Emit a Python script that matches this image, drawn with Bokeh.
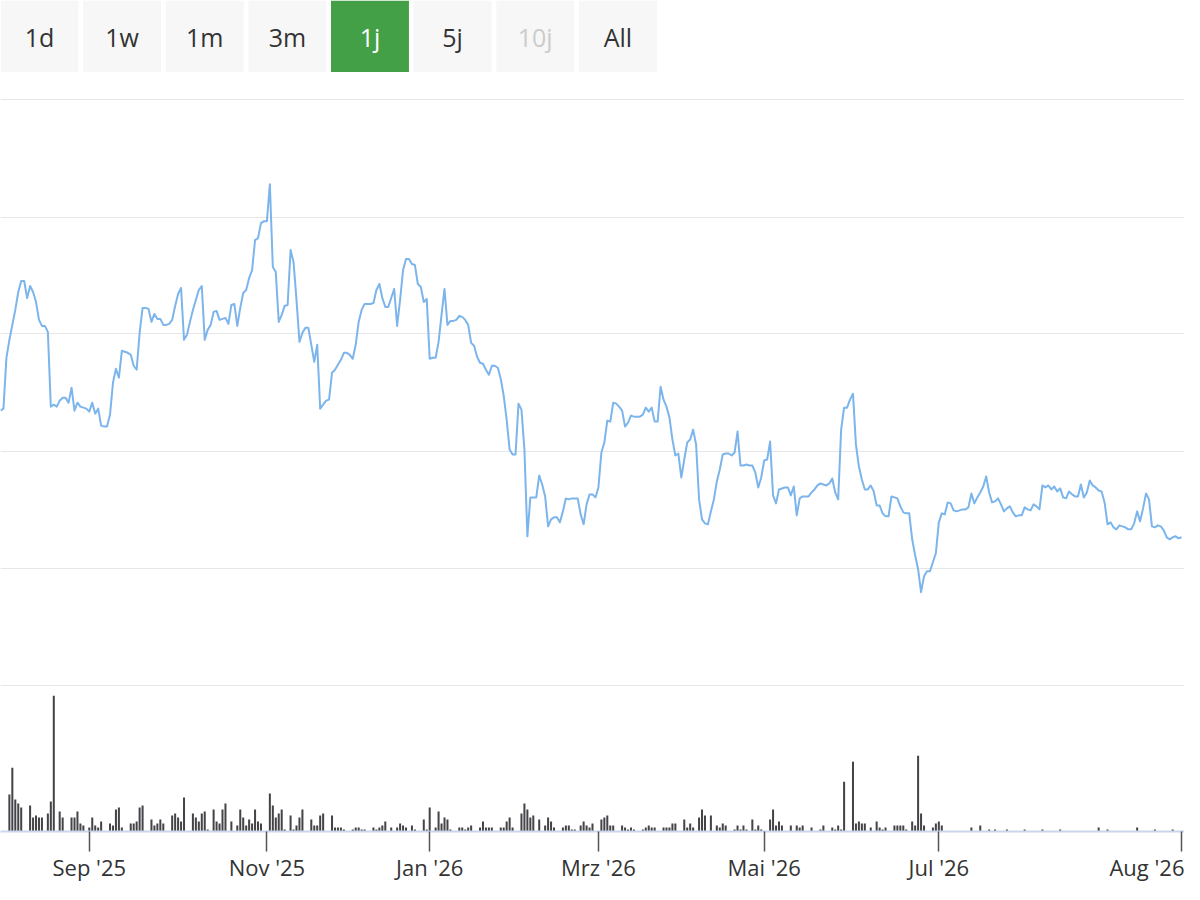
from bokeh.plotting import figure
from bokeh.models import Range1d, FixedTicker, Grid, ColumnDataSource
from bokeh.layouts import column
from bokeh.core.properties import value
from bokeh.embed import file_html
from bokeh.resources import INLINE

# ---------------- data ----------------
range_buttons = ["1d", "1w", "1m", "3m", "1j", "5j", "10j", "All"]
selected_button = "1j"
disabled_buttons = ["10j"]

month_sessions = [30, 90, 145, 202, 258, 317, 399]
month_labels = ["Sep '25", "Nov '25", "Jan '26", "Mrz '26", "Mai '26", "Jul '26", "Aug '26"]

price = [
    276, 278, 329, 347, 362, 377, 395, 406, 406, 389,
    401, 395, 385, 367, 361, 361, 355, 280, 282, 280,
    286, 289, 289, 284, 299, 276, 284, 280, 279, 278,
    275, 284, 273, 278, 261, 260, 260, 272, 304, 318,
    309, 336, 335, 334, 332, 321, 317, 354, 379, 379,
    378, 365, 373, 368, 368, 362, 362, 363, 367, 381,
    393, 399, 347, 352, 365, 377, 387, 397, 401, 347,
    357, 362, 375, 376, 367, 368, 369, 363, 382, 383,
    361, 379, 394, 397, 409, 417, 447, 449, 464, 466,
    466, 503, 420, 415, 365, 372, 381, 382, 437, 425,
    387, 345, 354, 359, 359, 342, 325, 342, 278, 282,
    286, 287, 314, 317, 322, 327, 334, 334, 332, 328,
    342, 365, 377, 383, 383, 383, 384, 397, 403, 389,
    380, 380, 389, 398, 361, 387, 417, 428, 428, 423,
    422, 403, 400, 385, 388, 328, 329, 329, 345, 372,
    398, 362, 366, 366, 367, 371, 370, 367, 362, 344,
    341, 330, 324, 323, 317, 312, 321, 321, 319, 308,
    291, 267, 237, 232, 232, 283, 277, 237, 150, 189,
    189, 189, 211, 202, 190, 160, 167, 169, 169, 164,
    175, 188, 187, 188, 188, 188, 172, 162, 182, 192,
    192, 189, 199, 234, 244, 266, 265, 284, 283, 280,
    276, 260, 264, 271, 270, 270, 270, 272, 279, 275,
    279, 265, 265, 300, 287, 280, 269, 247, 231, 233,
    209, 227, 244, 247, 257, 242, 187, 167, 163, 162,
    175, 187, 205, 217, 232, 233, 233, 231, 234, 255,
    221, 221, 222, 221, 221, 214, 199, 209, 226, 227,
    245, 191, 183, 197, 198, 199, 199, 191, 200, 171,
    188, 190, 190, 190, 194, 197, 201, 203, 202, 201,
    203, 208, 194, 187, 257, 279, 279, 287, 293, 242,
    220, 207, 197, 197, 201, 195, 181, 181, 173, 170,
    170, 190, 189, 188, 180, 174, 173, 173, 147, 131,
    117, 94, 110, 115, 115, 124, 133, 164, 173, 172,
    184, 183, 176, 175, 176, 177, 177, 179, 193, 183,
    189, 194, 200, 210, 194, 184, 185, 188, 182, 175,
    178, 180, 174, 170, 171, 171, 179, 177, 176, 182,
    180, 177, 201, 199, 201, 197, 200, 195, 198, 189,
    188, 195, 192, 190, 190, 202, 189, 194, 206, 201,
    199, 196, 195, 184, 162, 164, 159, 157, 161, 160,
    159, 157, 157, 163, 175, 165, 178, 193, 187, 160,
    159, 161, 160, 156, 149, 147, 149, 150, 148, 149,
]
sessions = list(range(len(price)))

volume_sessions = [
    3, 4, 5, 6, 7, 10, 11, 12, 13, 14, 16, 17, 18, 20, 21, 24, 25, 26, 27, 28,
    30, 31, 32, 33, 34, 37, 38, 39, 40, 41, 44, 45, 46, 47, 48, 51, 52, 53, 54, 55,
    58, 59, 60, 61, 62, 65, 66, 67, 68, 69, 70, 72, 73, 74, 75, 76, 78, 80, 81, 82,
    83, 84, 85, 86, 87, 88, 91, 92, 93, 94, 95, 96, 98, 99, 100, 101, 102, 105, 106, 107,
    108, 109, 112, 113, 114, 115, 116, 119, 120, 121, 122, 123, 126, 127, 128, 129, 130, 132,
    134, 135, 136, 137, 139, 140, 143, 144, 145, 147, 148, 149, 150, 151, 152, 155, 156, 157,
    158, 159, 162, 163, 164, 165, 166, 169, 170, 171, 172, 173, 176, 177, 178, 179, 180, 182,
    184, 185, 186, 187, 190, 191, 192, 193, 194, 196, 197, 198, 199, 200, 203, 204, 205, 206,
    207, 210, 211, 212, 213, 214, 217, 218, 219, 220, 221, 224, 225, 226, 227, 228, 231, 232,
    233, 234, 236, 237, 238, 240, 242, 243, 244, 245, 248, 249, 250, 251, 252, 254, 255, 256,
    257, 260, 261, 262, 263, 264,
    267, 269, 270, 271, 274, 277, 278, 281, 282, 283, 284, 285, 288, 289, 290, 291, 292, 294,
    296, 297, 298, 299, 302, 303, 304, 305, 306, 308, 309, 310, 311, 312, 315, 316, 317, 318,
    328, 331, 334, 336, 340, 346, 352, 358, 371, 374, 384, 390, 396,
]
volume = [
    3700, 6400, 3200, 2800, 2400, 2600, 1400, 1600, 1400, 1400, 1800, 3000, 13600, 2000, 1400, 1400, 1400, 2000, 800, 600,
    400, 1400, 600, 400, 1000, 800, 600, 2200, 2400, 400, 800, 800, 1000, 2400, 2600, 1200, 600, 800, 1200, 800,
    1600, 1800, 1400, 1000, 3400, 1800, 1400, 1000, 1800, 2000, 200, 2200, 1000, 800, 2200, 2800, 1000, 600, 2200, 1400,
    600, 1200, 800, 2200, 1000, 800, 3800, 2600, 1400, 1800, 2200, 200, 1600, 200, 600, 1400, 2200, 1200, 600, 600,
    1600, 1800, 1600, 400, 400, 400, 200, 200, 400, 400, 200, 200, 400, 200, 400, 600, 1000, 400,
    400, 800, 600, 400, 600, 200, 1200, 200, 2400, 400, 2000, 800, 1400, 1200, 200, 400, 400, 200,
    400, 600, 400, 1000, 400, 400, 400, 400, 400, 1000, 1400, 400, 1800, 2800, 2200, 1400, 1600, 1200,
    600, 1400, 1000, 400, 400, 600, 600, 200, 200, 600, 1000, 600, 400, 800, 1200, 1400, 1600, 600,
    600, 600, 400, 200, 400, 200, 200, 400, 600, 400, 400, 400, 400, 400, 800, 800, 1200, 400,
    800, 400, 1400, 2200, 1600, 1600, 600, 400, 800, 600, 200, 600, 200, 600, 200, 1200, 200, 600,
    200, 1200, 2200, 600, 1000, 600,
    600, 600, 400, 600, 400, 200, 600, 400, 200, 600, 200, 5000, 7000, 800, 1000, 800, 800, 400,
    1000, 400, 200, 400, 600, 600, 600, 600, 200, 1000, 600, 7600, 1800, 600, 400, 800, 1000, 600,
    400, 600, 200, 200, 200, 200, 200, 200, 400, 200, 400, 200, 200,
]

grid_levels = [0, 118, 235, 353, 470, 588]

# ---------------- styles ----------------
FONT = "Open Sans"
TEXT = "#333333"
W = 1184

# range selector buttons
btn_pitch = 1200 / 14.33
btn_x = [i * btn_pitch + 39.5 for i in range(len(range_buttons))]
btn_fill = ["#43a047" if b == selected_button else "#f7f7f7" for b in range_buttons]
btn_text = ["#ffffff" if b == selected_button else ("#cccccc" if b in disabled_buttons else TEXT)
            for b in range_buttons]
bsrc = ColumnDataSource(dict(x=btn_x, label=range_buttons, fill=btn_fill, tc=btn_text))

fb = figure(width=W, height=72, x_range=Range1d(0, 1200), y_range=Range1d(0, 72),
            toolbar_location=None, output_backend="svg", min_border=0,
            x_axis_location=None, y_axis_location=None)
fb.grid.visible = False
fb.outline_line_color = None
fb.rect(x="x", y=36, width=79, height=72, fill_color="fill", line_color=None, source=bsrc)
fb.text(x="x", y=36, text="label", text_color="tc", text_align="center", text_baseline="middle",
        text_font=value(FONT), text_font_size="25px", source=bsrc)

# main chart
p = figure(width=W, height=812, x_range=Range1d(0, 400), y_range=Range1d(-146, 590),
           toolbar_location=None, output_backend="svg",
           min_border_left=0, min_border_right=0, min_border_top=25, min_border_bottom=51,
           y_axis_location=None)
p.outline_line_color = None
p.xgrid.visible = False
p.ygrid.visible = False
p.add_layout(Grid(dimension=1, ticker=FixedTicker(ticks=grid_levels),
                  grid_line_color="#e6e6e6", grid_line_width=1))

p.extra_y_ranges = {"vol": Range1d(0, 73600)}
p.vbar(x=volume_sessions, top=volume, width=0.68, y_range_name="vol",
       fill_color="#434348", line_color=None)
p.line(x=sessions, y=price, line_color="#7cb5ec", line_width=2, line_join="round")

ax = p.xaxis[0]
ax.ticker = FixedTicker(ticks=month_sessions)
ax.major_label_overrides = {s: l for s, l in zip(month_sessions, month_labels)}
ax.minor_tick_line_color = None
ax.major_tick_in = 0
ax.major_tick_out = 20
ax.major_tick_line_color = "#555555"
ax.major_tick_line_width = 1.5
ax.axis_line_color = "#ccd6eb"
ax.axis_line_width = 2
ax.major_label_standoff = 0
ax.major_label_text_font = FONT
ax.major_label_text_font_size = "22px"
ax.major_label_text_color = TEXT

layout = column(fb, p, spacing=0)
open("out.html", "w").write(file_html(layout, INLINE))
